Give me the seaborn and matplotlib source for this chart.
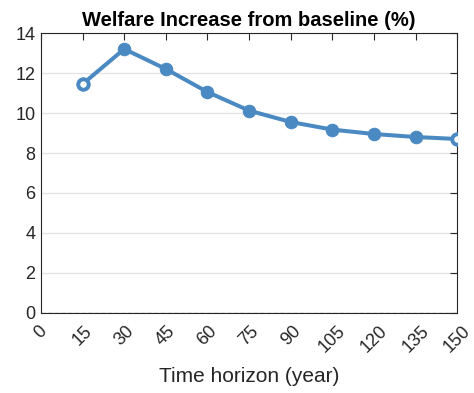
import numpy as np
import matplotlib
matplotlib.use("Agg")
import matplotlib.pyplot as plt
import seaborn as sns

# values
horizon = np.array([15, 30, 45, 60, 75, 90, 105, 120, 135, 150])
welfare = np.array([11.45, 13.2, 12.2, 11.05, 10.12, 9.55, 9.17, 8.95, 8.8, 8.7])
xticks = np.arange(0, 151, 15)
yticks = np.arange(0, 15, 2)

sns.set_theme(style="white")
plt.rcParams['font.family'] = ['Liberation Sans', 'DejaVu Sans']

blue = "#4a89c2"

fig = plt.figure(figsize=(4.74, 3.93), dpi=100)
ax = fig.add_axes([0.0865, 0.2036, 0.878, 0.7124])

ax.grid(axis="y", color="#e3e3e3", lw=0.9)
ax.axhline(0, color="#777777", lw=0.9, ls="--", zorder=3)

sns.lineplot(x=horizon, y=welfare, ax=ax, color=blue, lw=2.9, marker="o",
             markersize=9, markeredgecolor=blue, markerfacecolor=blue, zorder=4)
# end points are drawn hollow
ax.plot(horizon[[0, -1]], welfare[[0, -1]], "o", ms=7.5, mfc="white",
        mec=blue, mew=2.8, zorder=5)

ax.set_xlim(0, 150)
ax.set_ylim(0, 14)
ax.set_xticks(xticks)
ax.set_yticks(yticks)
ax.set_xticklabels([str(t) for t in xticks], rotation=45, ha="center",
                   va="top")
ax.tick_params(axis="both", direction="in", length=5, width=0.8,
               top=True, right=True, labelsize=13, colors="#262626",
               pad=4)
ax.tick_params(axis="x", pad=7)
for s in ax.spines.values():
    s.set_color("#262626")
    s.set_linewidth(0.8)

ax.set_xlabel("Time horizon (year)", fontsize=15, color="#262626", labelpad=8)
ax.set_title("Welfare Increase from baseline (%)", fontsize=14.5,
             fontweight="bold", pad=5, color="black")

fig.savefig("out.png", dpi=100)
